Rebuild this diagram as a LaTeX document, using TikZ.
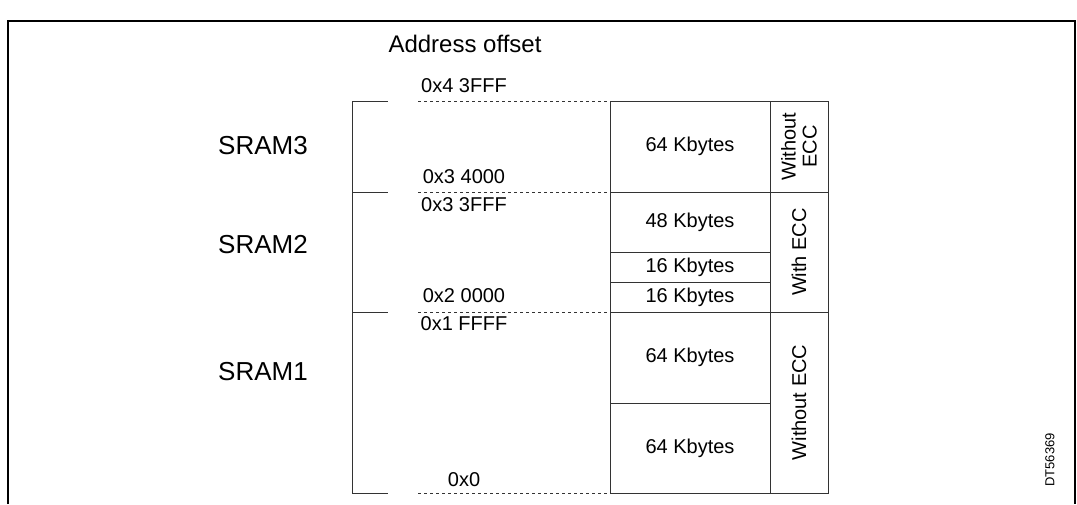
\documentclass[tikz,border=0pt]{standalone}
\usepackage{fontspec}
\setmainfont{Liberation Sans}
\begin{document}
\begin{tikzpicture}[x=1pt,y=-1pt]
      \tikzset{
        cell/.style={draw,thin,gray!40!black},
        addr/.style={font=\fontsize{20}{22}\selectfont,anchor=center},
        sram/.style={font=\fontsize{26}{28}\selectfont},
        ecc/.style={font=\fontsize{20}{21}\selectfont,rotate=90}}
      \useasboundingbox (0,0) rectangle (1077,504);
      \draw[line width=2.2pt] (8,504) -- (8,21) -- (1075,21) -- (1075,504);
      \node[font=\fontsize{24}{26}\selectfont] (title) at (465,44) {Address offset};
      % memory rows
      \def \Rows{
        a/101/192/64 Kbytes,
        b/192/252/48 Kbytes,
        c/252/282/16 Kbytes,
        d/282/312/16 Kbytes,
        e/312/403/64 Kbytes,
        f/403/493/64 Kbytes}
      \foreach \id / \t / \b / \txt in \Rows{
        \draw[cell] (610,\t) rectangle (770,\b);
        \node[addr] (\id) at (690,{(\t+\b)/2}) {\txt};
      }
      \def \Sides{
        s3/101/192/Without\\ECC,
        s2/192/312/With ECC,
        s1/312/493/Without ECC}
      \foreach \id / \t / \b / \txt in \Sides{
        \draw[cell] (770,\t) rectangle (828,\b);
        \node[ecc,align=center] (\id) at (799,{(\t+\b)/2}) {\txt};
      }
      % brackets and offsets
      \foreach \y in {101,192,312,493}{
        \draw[cell] (352,\y) -- (388,\y);
        \draw[cell,dashed] (418,\y) -- (610,\y);
      }
      \draw[cell] (352,101) -- (352,493);
      \def \Addrs{
        o1/86/0x4 3FFF,
        o2/177/0x3 4000,
        o3/205/0x3 3FFF,
        o4/296/0x2 0000,
        o5/324/0x1 FFFF,
        o6/480/0x0}
      \foreach \id / \y / \txt in \Addrs{
        \node[addr] (\id) at (464,\y) {\txt};
      }
      \node[sram] (sram3) at (263,146) {SRAM3};
      \node[sram] (sram2) at (263,245) {SRAM2};
      \node[sram] (sram1) at (263,372) {SRAM1};
      \node[font=\fontsize{13}{14}\selectfont,rotate=90] (dt) at (1050,460) {DT56369};
    \end{tikzpicture}
\end{document}
